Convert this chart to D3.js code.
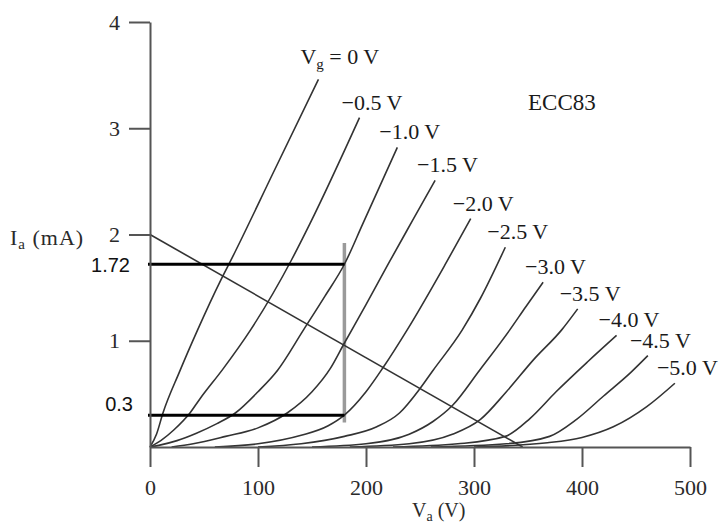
<!DOCTYPE html>
<html>
<head>
<meta charset="utf-8">
<script src="https://cdn.jsdelivr.net/npm/d3@7"></script>
<style>
  html, body { margin: 0; padding: 0; background: #fff; }
  svg { display: block; }
</style>
</head>
<body>
<svg id="chart" width="727" height="525"></svg>
<script>
// ECC83 triode: anode current Ia (mA) against anode voltage Va (V), one curve per grid voltage.
const gridVoltages = [0, -0.5, -1.0, -1.5, -2.0, -2.5, -3.0, -3.5, -4.0, -4.5, -5.0];

// [Va, Ia] points of each characteristic
const curveVg00 = [[0,0],[6,0.12],[12,0.32],[27,0.70],[44,1.10],[66,1.58],[76,1.78],[115,2.60],[156,3.46]];
const curveVg05 = [[0,0],[10,0.06],[22,0.16],[37,0.32],[46,0.45],[68,0.74],[93,1.10],[131,1.76],[148,2.10],[194,3.10]];
const curveVg10 = [[0,0],[10,0.02],[25,0.06],[43,0.13],[62,0.22],[79,0.32],[100,0.52],[118,0.72],[142,1.10],[162,1.42],[180,1.72],[197,2.10],[229,2.82]];
const curveVg15 = [[20,0],[40,0.03],[70,0.10],[100,0.18],[127,0.32],[150,0.52],[167,0.74],[179,0.96],[200,1.34],[221,1.73],[243,2.13],[264,2.51]];
const curveVg20 = [[60,0],[100,0.03],[140,0.11],[165,0.20],[180,0.30],[200,0.52],[216,0.75],[238,1.10],[274,1.73],[297,2.15]];
const curveVg25 = [[100,0],[140,0.03],[180,0.10],[210,0.19],[231,0.32],[250,0.55],[262,0.72],[289,1.10],[306,1.40],[329,1.88]];
const curveVg30 = [[150,0],[200,0.03],[240,0.12],[262,0.24],[280,0.39],[305,0.72],[333,1.10],[348,1.32],[364,1.55]];
const curveVg35 = [[185,0],[240,0.03],[280,0.12],[306,0.26],[330,0.52],[355,0.82],[381,1.10],[396,1.30]];
const curveVg40 = [[225,0],[285,0.03],[329,0.10],[352,0.27],[376,0.52],[405,0.80],[432,1.05]];
const curveVg45 = [[260,0],[330,0.03],[370,0.10],[395,0.26],[420,0.48],[445,0.70],[461,0.86]];
const curveVg50 = [[300,0],[368,0.04],[400,0.09],[429,0.19],[460,0.38],[486,0.60]];

const curves = [curveVg00, curveVg05, curveVg10, curveVg15, curveVg20, curveVg25,
                curveVg30, curveVg35, curveVg40, curveVg45, curveVg50];

const xTicks = [0, 100, 200, 300, 400, 500];
const yTicks = [1, 2, 3, 4];

// Load line: Ia = 2 mA at Va = 0, Ia = 0 at Va = 345 V
const loadLine = [[0, 2], [345, 0]];

// Current swing read at Va = 180 V
const swingVa = 180;
const swingCurrents = [1.72, 0.3];
const swingSpan = [0.23, 1.92];

const tubeName = "ECC83";

const svg = d3.select("#chart");
const serif = "'Liberation Serif', 'Times New Roman', serif";
const sans = "'Liberation Sans', Arial, sans-serif";

const x = d3.scaleLinear().domain([0, 500]).range([150, 690]);
const y = d3.scaleLinear().domain([0, 4]).range([447, 22]);

const line = d3.line()
  .x(d => x(d[0]))
  .y(d => y(d[1]))
  .curve(d3.curveMonotoneX);

// vertical marker at Va = 180 V
svg.append("line")
  .attr("x1", x(swingVa)).attr("x2", x(swingVa))
  .attr("y1", y(swingSpan[0])).attr("y2", y(swingSpan[1]))
  .attr("stroke", "#9a9a9a").attr("stroke-width", 3.5);

// characteristic curves
svg.append("g").selectAll("path")
  .data(curves)
  .join("path")
  .attr("d", line)
  .attr("fill", "none")
  .attr("stroke", "#333")
  .attr("stroke-width", 1.6);

// load line
svg.append("path")
  .attr("d", d3.line().x(d => x(d[0])).y(d => y(d[1]))(loadLine))
  .attr("fill", "none")
  .attr("stroke", "#333")
  .attr("stroke-width", 1.6);

// horizontal current levels
svg.append("g").selectAll("line")
  .data(swingCurrents)
  .join("line")
  .attr("x1", x(0) - 2).attr("x2", x(swingVa))
  .attr("y1", d => y(d)).attr("y2", d => y(d))
  .attr("stroke", "#000").attr("stroke-width", 3);

svg.append("g").selectAll("text")
  .data(swingCurrents)
  .join("text")
  .attr("x", (d, i) => i === 0 ? 130 : 133)
  .attr("y", (d, i) => i === 0 ? y(d) + 8 : y(d) - 4)
  .attr("text-anchor", "end")
  .attr("font-family", sans)
  .attr("font-size", 20)
  .attr("fill", "#111")
  .text(d => d);

// axes
const xAxis = svg.append("g")
  .attr("transform", `translate(0,${y(0)})`)
  .call(d3.axisBottom(x).tickValues(xTicks).tickSize(20).tickSizeOuter(0).tickPadding(12).tickFormat(d3.format("d")));

const yAxis = svg.append("g")
  .attr("transform", `translate(${x(0)},0)`)
  .call(d3.axisLeft(y).tickValues(yTicks).tickSize(21).tickSizeOuter(0).tickPadding(9).tickFormat(d3.format("d")));

[xAxis, yAxis].forEach(g => {
  g.select(".domain").attr("stroke", "#555").attr("stroke-width", 2);
  g.selectAll(".tick line").attr("stroke", "#555").attr("stroke-width", 2);
  g.selectAll(".tick text")
    .attr("font-family", serif)
    .attr("font-size", 22)
    .attr("fill", "#2a2a2a");
});

// axis titles
const yTitle = svg.append("text")
  .attr("x", 10).attr("y", 245)
  .attr("font-family", serif).attr("font-size", 22)
  .attr("letter-spacing", 1).attr("fill", "#2a2a2a");
yTitle.append("tspan").text("I");
yTitle.append("tspan").attr("font-size", 15).attr("dy", 4).text("a");
yTitle.append("tspan").attr("dy", -4).text(" (mA)");

const xTitle = svg.append("text")
  .attr("x", 412).attr("y", 517)
  .attr("font-family", serif).attr("font-size", 20)
  .attr("fill", "#2a2a2a");
xTitle.append("tspan").text("V");
xTitle.append("tspan").attr("font-size", 14).attr("dy", 4).text("a");
xTitle.append("tspan").attr("dy", -4).text(" (V)");

// curve labels at the upper end of each curve
const labels = svg.append("g")
  .attr("font-family", serif)
  .attr("font-size", 22)
  .attr("fill", "#1a1a1a");

curves.forEach((c, i) => {
  const end = c[c.length - 1];
  const t = labels.append("text")
    .attr("x", x(end[0]) - 18)
    .attr("y", y(end[1]) - (i === 0 ? 15 : 8));
  const vg = gridVoltages[i];
  if (i === 0) {
    t.append("tspan").text("V");
    t.append("tspan").attr("font-size", 15).attr("dy", 5).text("g");
    t.append("tspan").attr("dy", -5).text(" = " + vg + " V");
  } else {
    t.text("\u2212" + Math.abs(vg).toFixed(1) + " V");
  }
});

svg.append("text")
  .attr("x", 528).attr("y", 110)
  .attr("font-family", serif).attr("font-size", 23).attr("fill", "#1a1a1a")
  .text(tubeName);
</script>
</body>
</html>
